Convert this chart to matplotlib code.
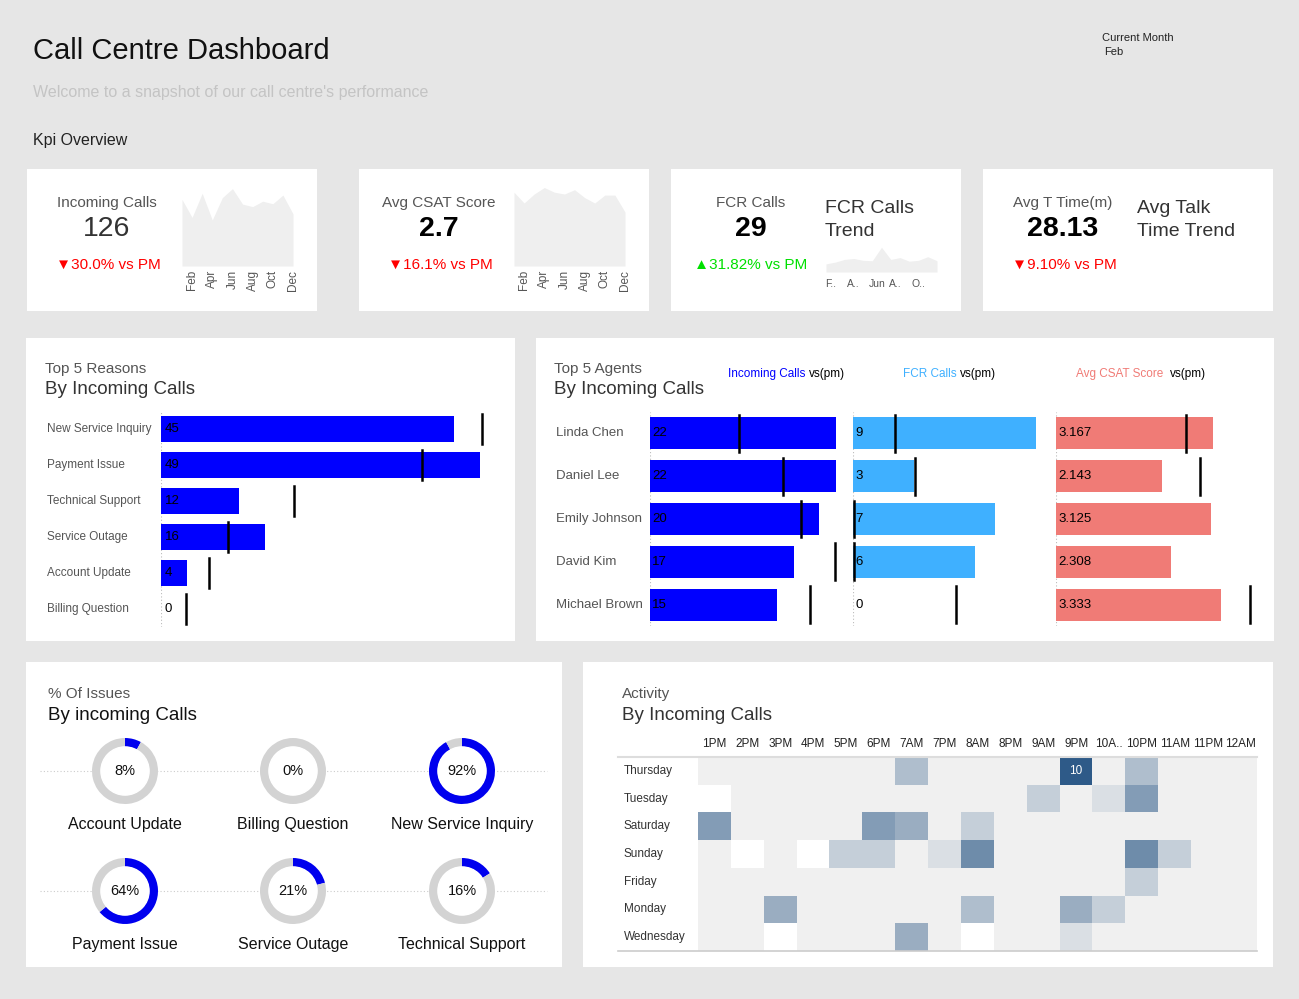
import matplotlib
matplotlib.use("Agg")
import matplotlib.pyplot as plt
import numpy as np
from matplotlib.colors import LinearSegmentedColormap
from matplotlib.lines import Line2D
from matplotlib.patches import Rectangle
from matplotlib.transforms import blended_transform_factory

plt.rcParams['font.family'] = ['Liberation Sans', 'DejaVu Sans']

# ---------------- data ----------------
months = ["Jan", "Feb", "Mar", "Apr", "May", "Jun", "Jul", "Aug", "Sep", "Oct", "Nov", "Dec"]
incoming_trend = [185, 135, 202, 128, 190, 215, 172, 165, 180, 173, 197, 145]
csat_trend = [205, 175, 200, 218, 205, 200, 212, 190, 175, 197, 197, 150]
fcr_trend = [18, 22, 28, 30, 26, 25, 55, 28, 32, 24, 26, 34, 25]

reasons = ["New Service Inquiry", "Payment Issue", "Technical Support", "Service Outage", "Account Update", "Billing Question"]
reason_calls = [45, 49, 12, 16, 4, 0]
reason_pm = [49.3, 40, 20.4, 10.3, 7.4, 3.8]

agents = ["Linda Chen", "Daniel Lee", "Emily Johnson", "David Kim", "Michael Brown"]
agent_calls = [22, 22, 20, 17, 15]
agent_calls_pm = [10.5, 15.7, 17.9, 21.9, 18.9]
agent_fcr = [9, 3, 7, 6, 0]
agent_fcr_pm = [2.07, 3.05, 0.05, 0.05, 5.07]
agent_csat = [3.167, 2.143, 3.125, 2.308, 3.333]
agent_csat_pm = [2.62, 2.9, None, None, 3.91]

issue_names = ["Account Update", "Billing Question", "New Service Inquiry", "Payment Issue", "Service Outage", "Technical Support"]
issue_pct = [8, 0, 92, 64, 21, 16]

hours = ["1PM", "2PM", "3PM", "4PM", "5PM", "6PM", "7AM", "7PM", "8AM", "8PM", "9AM", "9PM", "10A..", "10PM", "11AM", "11PM", "12AM"]
days = ["Thursday", "Tuesday", "Saturday", "Sunday", "Friday", "Monday", "Wednesday"]
N = np.nan
activity = [
    [1, 1, 1, 1, 1, 1, 4, 1, 1, 1, 1, 10, 1, 4, 1, 1, 1],
    [N, 1, 1, 1, 1, 1, 1, 1, 1, 1, 3, 1, 2, 6, 1, 1, 1],
    [6, 1, 1, 1, 1, 6, 5, 1, 3, 1, 1, 1, 1, 1, 1, 1, 1],
    [1, N, 1, N, 3, 3, 1, 2, 7, 1, 1, 1, 1, 7, 3, 1, 1],
    [1, 1, 1, 1, 1, 1, 1, 1, 1, 1, 1, 1, 1, 3, 1, 1, 1],
    [1, 1, 5, 1, 1, 1, 1, 1, 4, 1, 1, 5, 3, 1, 1, 1, 1],
    [1, 1, N, 1, 1, 1, 5, 1, N, 1, 1, 2, 1, 1, 1, 1, 1],
]

# ---------------- layout helpers ----------------
W, H = 1299, 999
fig = plt.figure(figsize=(W / 100, H / 100), dpi=100, facecolor="#e6e6e6")


def fx(x):
    return x / W


def fy(y):
    return 1 - y / H


def add_ax(x0, y0, x1, y1, **kw):
    return fig.add_axes([fx(x0), fy(y1), (x1 - x0) / W, (y1 - y0) / H], **kw)


def txt(x, y, s, **kw):
    kw.setdefault("va", "center")
    return fig.text(fx(x), fy(y), s, **kw)


def panel(x0, y0, x1, y1):
    fig.add_artist(Rectangle((fx(x0), fy(y1)), (x1 - x0) / W, (y1 - y0) / H,
                             transform=fig.transFigure, facecolor="white", edgecolor="none", zorder=-5))


def hline(x0, x1, y, **kw):
    fig.add_artist(Line2D([fx(x0), fx(x1)], [fy(y), fy(y)], transform=fig.transFigure, **kw))


def row_labels(ax, labels, x_px, ax_x0, ax_x1, **kw):
    tr = blended_transform_factory(ax.transAxes, ax.transData)
    xa = (x_px - ax_x0) / (ax_x1 - ax_x0)
    for i, lab in enumerate(labels):
        ax.text(xa, i, lab, transform=tr, ha="left", va="center", clip_on=False, **kw)


# ---------------- header ----------------
txt(33, 51, "Call Centre Dashboard", fontsize=21, color="#111111")
txt(33, 92, "Welcome to a snapshot of our call centre's performance", fontsize=11.5, color="#c4c4c4")
txt(33, 140, "Kpi Overview", fontsize=11.5, color="#222222")
txt(1102, 38, "Current Month", fontsize=8, color="#222222")
txt(1104, 52, "Feb", fontsize=8, color="#222222")

# ---------------- KPI panels ----------------
for (a, b) in [(27, 317), (359, 649), (671, 961), (983, 1273)]:
    panel(a, 169, b, 311)

RED = "#ff0000"
GREEN = "#00e000"
txt(107, 203, "Incoming Calls", fontsize=11, color="#555555", ha="center")
txt(107, 229, "126", fontsize=20.5, color="#333333", ha="center")
txt(108, 265, "▼30.0% vs PM", fontsize=11, color=RED, ha="center")

txt(439, 203, "Avg CSAT Score", fontsize=11, color="#555555", ha="center")
txt(439, 229, "2.7", fontsize=20.5, color="black", ha="center", fontweight="bold")
txt(440, 265, "▼16.1% vs PM", fontsize=11, color=RED, ha="center")

txt(751, 203, "FCR Calls", fontsize=11, color="#555555", ha="center")
txt(751, 229, "29", fontsize=20.5, color="black", ha="center", fontweight="bold")
txt(751, 265, "▲31.82% vs PM", fontsize=11, color=GREEN, ha="center")
txt(825, 220, "FCR Calls\nTrend", fontsize=14, color="#333333", linespacing=1.45)

txt(1063, 203, "Avg T Time(m)", fontsize=11, color="#555555", ha="center")
txt(1063, 229, "28.13", fontsize=20.5, color="black", ha="center", fontweight="bold")
txt(1064, 265, "▼9.10% vs PM", fontsize=11, color=RED, ha="center")
txt(1137, 220, "Avg Talk\nTime Trend", fontsize=14, color="#333333", linespacing=1.45)


def spark(x0, x1, y0, y1, vals, ymax):
    ax = add_ax(x0, y0, x1, y1)
    xs = np.arange(len(vals))
    ax.fill_between(xs, 0, vals, color="#efefef", lw=0)
    ax.set_xlim(0, len(vals) - 1)
    ax.set_ylim(0, ymax)
    ax.set_facecolor("none")
    for s in ax.spines.values():
        s.set_visible(False)
    ax.set_yticks([])
    return ax


for x0, vals in [(182, incoming_trend), (514, csat_trend)]:
    ax = spark(x0, x0 + 111, 185, 266, vals, 225)
    ax.set_xticks(range(1, 12, 2))
    ax.set_xticklabels(months[1::2], rotation=90, fontsize=8.5, color="#555555")
    ax.tick_params(axis="x", length=0, pad=3)

ax = spark(826, 937, 245, 272, fcr_trend, 60)
ax.set_xticks([0.5, 3, 5.5, 7.5, 10])
ax.set_xticklabels(["F..", "A..", "Jun", "A..", "O.."], fontsize=7.5, color="#555555")
ax.tick_params(axis="x", length=0, pad=5)

# ---------------- Top 5 reasons ----------------
panel(26, 338, 515, 641)
txt(45, 369, "Top 5 Reasons", fontsize=11, color="#555555")
txt(45, 390, "By Incoming Calls", fontsize=13.5, color="#333333")
axr = add_ax(161, 411, 500, 627)
y = np.arange(len(reasons))
axr.axvline(0, color="#bbbbbb", lw=0.8, ls=(0, (1, 2)), zorder=0)
axr.barh(y, reason_calls, height=0.72, color="#0000ff", zorder=2)
for i, (v, pm) in enumerate(zip(reason_calls, reason_pm)):
    axr.text(0.6, i, str(v), va="center", fontsize=9.5, color="black", zorder=4)
    axr.plot([pm, pm], [i - 0.42, i + 0.42], color="black", lw=1.8, zorder=3)
axr.set_ylim(len(reasons) - 0.5, -0.5)
axr.set_xlim(0, 52)
axr.set_yticks([])
axr.set_xticks([])
for s in axr.spines.values():
    s.set_visible(False)
row_labels(axr, reasons, 47, 161, 500, fontsize=8.5, color="#555555")

# ---------------- Top 5 agents ----------------
panel(536, 338, 1274, 641)
txt(554, 369, "Top 5 Agents", fontsize=11, color="#555555")
txt(554, 390, "By Incoming Calls", fontsize=13.5, color="#333333")
BLUE2 = "#3fb0ff"
SALMON = "#f07b76"
txt(728, 374, "Incoming Calls", fontsize=8.5, color="#0000ff")
txt(809, 374, "vs(pm)", fontsize=8.5, color="black")
txt(903, 374, "FCR Calls", fontsize=8.5, color=BLUE2)
txt(960, 374, "vs(pm)", fontsize=8.5, color="black")
txt(1076, 374, "Avg CSAT Score", fontsize=8.5, color=SALMON)
txt(1170, 374, "vs(pm)", fontsize=8.5, color="black")

ya = np.arange(len(agents))
specs = [
    (650, 845, agent_calls, agent_calls_pm, "#0000ff", 23.1, lambda v: str(v)),
    (853, 1045, agent_fcr, agent_fcr_pm, BLUE2, 9.45, lambda v: str(v)),
    (1056, 1252, agent_csat, agent_csat_pm, SALMON, 3.95, lambda v: f"{v:.3f}"),
]
for k, (x0, x1, vals, pms, col, xmax, fmt) in enumerate(specs):
    ax = add_ax(x0, 412, x1, 626)
    ax.axvline(0, color="#bbbbbb", lw=0.8, ls=(0, (1, 2)), zorder=0)
    ax.barh(ya, vals, height=0.75, color=col, zorder=2)
    for i, (v, pm) in enumerate(zip(vals, pms)):
        ax.text(xmax * 0.012, i, fmt(v), va="center", fontsize=9.5, color="black", zorder=4)
        if pm is not None:
            ax.plot([pm, pm], [i - 0.43, i + 0.43], color="black", lw=1.8, zorder=3)
    ax.set_ylim(len(agents) - 0.5, -0.5)
    ax.set_xlim(0, xmax)
    ax.set_xticks([])
    ax.set_yticks([])
    for s in ax.spines.values():
        s.set_visible(False)
    if k == 0:
        row_labels(ax, agents, 556, x0, x1, fontsize=9.5, color="#555555")

# ---------------- % of issues ----------------
panel(26, 662, 562, 967)
txt(48, 694, "% Of Issues", fontsize=11, color="#555555")
txt(48, 715, "By incoming Calls", fontsize=13.5, color="#111111")
centers = [(125, 771), (293, 771), (462, 771), (125, 891), (293, 891), (462, 891)]
for yy in (771, 891):
    hline(40, 547, yy, color="#cccccc", lw=0.8, ls=(0, (1, 2)), zorder=-1)
for (cx, cy), name, p in zip(centers, issue_names, issue_pct):
    r = 33
    ax = add_ax(cx - r, cy - r, cx + r, cy + r)
    ax.pie([p, 100 - p] if p > 0 else [0.0001, 100], colors=["#0000ee", "#d3d3d3"], startangle=90,
           counterclock=False, wedgeprops=dict(width=0.27, edgecolor="none"), radius=1)
    ax.add_patch(plt.Circle((0, 0), 0.73, color="white", zorder=3))
    ax.text(0, 0, f"{p}%", ha="center", va="center", fontsize=10.5, color="#111111", zorder=4)
    ax.set_xlim(-1, 1)
    ax.set_ylim(-1, 1)
    ax.set_aspect("equal")
    ax.axis("off")
    txt(cx, cy + 53, name, fontsize=11.5, color="#111111", ha="center")

# ---------------- Activity heatmap ----------------
panel(583, 662, 1273, 967)
txt(622, 694, "Activity", fontsize=11, color="#555555")
txt(622, 715, "By Incoming Calls", fontsize=13.5, color="#333333")
cmap = LinearSegmentedColormap.from_list("blues", ["#f0f0f0", "#2e5a88"])
cmap.set_bad("white")
axh = add_ax(698, 757, 1257, 951)
data = np.ma.masked_invalid(np.array(activity, dtype=float))
axh.imshow(data, cmap=cmap, vmin=1, vmax=10, aspect="auto", interpolation="nearest")
for i in range(len(days)):
    for j in range(len(hours)):
        if activity[i][j] == 10:
            axh.text(j, i, "10", ha="center", va="center", color="white", fontsize=8.5)
axh.set_xticks(range(len(hours)))
axh.set_xticklabels(hours, fontsize=8.5, color="#222222")
axh.xaxis.tick_top()
axh.set_yticks([])
axh.tick_params(axis="both", length=0)
axh.tick_params(axis="x", pad=5)
for s in axh.spines.values():
    s.set_visible(False)
row_labels(axh, days, 624, 698, 1257, fontsize=8.5, color="#333333")
hline(618, 1257, 757, color="#dddddd", lw=1.5)
hline(618, 1257, 951, color="#cccccc", lw=1.2)

fig.savefig("out.png", dpi=100, facecolor=fig.get_facecolor())
